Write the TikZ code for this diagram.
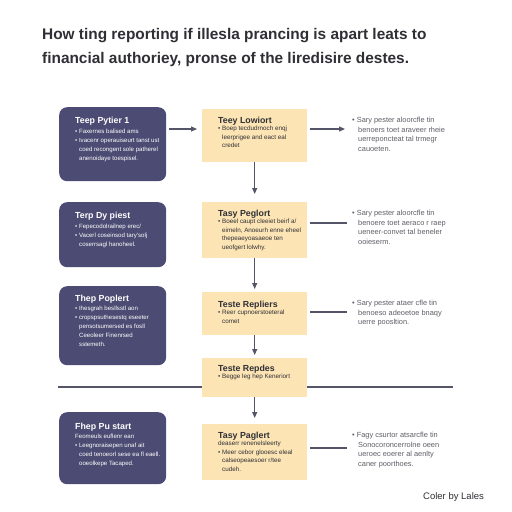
\documentclass[tikz,border=0pt]{standalone}
\usepackage{fontspec}
\setmainfont{Liberation Sans}
\usetikzlibrary{arrows.meta}
\definecolor{navy}{HTML}{4B4B73}
\definecolor{sand}{HTML}{FCE4B4}
\definecolor{ink}{HTML}{2F2F35}
\definecolor{linec}{HTML}{55556A}
\definecolor{graytxt}{HTML}{5E5E66}
\newcommand\bxfont{\fontsize{8.8}{11}\selectfont\bfseries}
\begin{document}
\begin{tikzpicture}[x=1pt,y=-1pt,
  darkbox/.style={fill=navy, rounded corners=8pt, inner sep=0pt, anchor=north west, minimum width=107pt},
  sandbox/.style={fill=sand, inner sep=0pt, anchor=north west, minimum width=105pt},
  ltext/.style={anchor=north west, inner sep=0pt, align=left, text=white, font=\fontsize{6.1}{9}\selectfont},
  ytext/.style={anchor=north west, inner sep=0pt, align=left, text=ink, font=\fontsize{6.3}{8.8}\selectfont},
  rtext/.style={anchor=north west, inner sep=0pt, align=left, text=graytxt, font=\fontsize{7.4}{9.6}\selectfont},
  conn/.style={draw=linec, line width=1.1pt},
  arr/.style={conn, -{Triangle[length=6pt,width=5pt]}}
]
\useasboundingbox (0,0) rectangle (512,512);
\fill[white] (0,0) rectangle (512,512);

% title
\node[anchor=west, inner sep=0pt, text=ink, align=left, font=\fontsize{15.4}{24}\selectfont\bfseries] (title) at (42,47.5)
  {How ting reporting if illesla prancing is apart leats to\\financial authoriey, pronse of the liredisire destes.};

% long horizontal line (behind box Y4)
\coordinate (hl) at (58,387);
\coordinate (hr) at (453,387);
\draw[conn] (hl) -- (hr);

% left dark boxes
\node[darkbox, minimum height=74pt] (L1) at (59,107) {};
\node[darkbox, minimum height=65pt] (L2) at (59,202) {};
\node[darkbox, minimum height=79pt] (L3) at (59,286) {};
\node[darkbox, minimum height=72pt] (L4) at (59,412) {};

\node[ltext] (L1t) at ([xshift=16pt,yshift=-10pt]L1.north west)
  {{\bxfont Teep Pytier 1}\\[1pt]
   • Faxernes balised ams\\
   • Ivacenr operauiseurt tanst ust\\
   \hspace*{4pt}coed recongent sole patherel\\
   \hspace*{4pt}anenoidaye toespisel.};
\node[ltext] (L2t) at ([xshift=16pt,yshift=-10pt]L2.north west)
  {{\bxfont Terp Dy piest}\\[1pt]
   • Fepecodolrailnep erec/\\
   • Vacerl coseinsod tary'solj\\
   \hspace*{4pt}coserrsagl hanoheel.};
\node[ltext] (L3t) at ([xshift=16pt,yshift=-9pt]L3.north west)
  {{\bxfont Thep Poplert}\\[0pt]
   • Ihesgrah besllsstl aon\\
   • cropspsuthesestq eseeter\\
   \hspace*{4pt}pensotsumersed es fosll\\
   \hspace*{4pt}Ceeoleer Finenrsed\\
   \hspace*{4pt}sstemeth.};
\node[ltext] (L4t) at ([xshift=16pt,yshift=-11pt]L4.north west)
  {{\bxfont Fhep Pu start}\\[0pt]
   \hspace*{0pt}Feomeuls euflenr ean\\
   • Leegnoraisepen unaf ait\\
   \hspace*{4pt}coed tenoeorl sese ea fl eaell.\\
   \hspace*{4pt}ooeolkepe Tacaped.};

% sand boxes
\node[sandbox, minimum height=53pt] (Y1) at (202,109) {};
\node[sandbox, minimum height=56pt] (Y2) at (202,202) {};
\node[sandbox, minimum height=43pt] (Y3) at (202,292) {};
\node[sandbox, minimum height=39pt] (Y4) at (202,358) {};
\node[sandbox, minimum height=56pt] (Y5) at (202,424) {};

\node[ytext] (Y1t) at ([xshift=16pt,yshift=-8pt]Y1.north west)
  {{\bxfont Teey Lowiort}\\[-2pt]
   • Boep tecdudrnoch enqj\\
   \hspace*{4pt}leerprigee and eact eal\\
   \hspace*{4pt}credet};
\node[ytext] (Y2t) at ([xshift=16pt,yshift=-8pt]Y2.north west)
  {{\bxfont Tasy Peglort}\\[-2pt]
   • Boeel caupt cleeiet beirf a/\\
   \hspace*{4pt}eimeln, Anoeurh enne eheel\\
   \hspace*{4pt}thepeaeyoasaeoe ten\\
   \hspace*{4pt}ueofgert lolwhy.};
\node[ytext] (Y3t) at ([xshift=16pt,yshift=-9pt]Y3.north west)
  {{\bxfont Teste Repliers}\\[-2pt]
   • Reer cupnoerstoeteral\\
   \hspace*{4pt}comet};
\node[ytext] (Y4t) at ([xshift=16pt,yshift=-7pt]Y4.north west)
  {{\bxfont Teste Repdes}\\[-2pt]
   • Begge leg hep Keneriort};
\node[ytext] (Y5t) at ([xshift=16pt,yshift=-8pt]Y5.north west)
  {{\bxfont Tasy Paglert}\\[-2pt]
   \hspace*{0pt}deaserr renenelsleerty\\
   • Meer cebor glooesc eleal\\
   \hspace*{4pt}calseopeaesoer r/tee\\
   \hspace*{4pt}cudeh.};

% right texts
\node[rtext] (R1) at (352,117)
  {• Sary pester aloorcfle tin\\
   \hspace*{6pt}benoers toet araveer rheie\\
   \hspace*{6pt}uerreponcteat tal trmegr\\
   \hspace*{6pt}cauoeten.};
\node[rtext] (R2) at (352,210)
  {• Sary pester aloorcfle tin\\
   \hspace*{6pt}benoere toet aeraco r raep\\
   \hspace*{6pt}ueneer-convet tal beneler\\
   \hspace*{6pt}ooieserm.};
\node[rtext] (R3) at (352,300)
  {• Sary pester ataer cfle tin\\
   \hspace*{6pt}benoeso adeoetoe bnaqy\\
   \hspace*{6pt}uerre poosltion.};
\node[rtext] (R4) at (352,432)
  {• Fagy csurtor atsarcfle tin\\
   \hspace*{6pt}Sonocoroncerrolne oeen\\
   \hspace*{6pt}ueroec eoerer al aenlty\\
   \hspace*{6pt}caner poorthoes.};

% footer
\node[anchor=west, inner sep=0pt, text=ink, font=\fontsize{9.5}{11}\selectfont] (foot) at (423,497) {Coler by Lales};

% connectors
\draw[arr, shorten <=3pt, shorten >=5pt] (L1.east |- 0,129) -- (Y1.west |- 0,129);
\draw[arr, shorten <=3pt, shorten >=7pt] (Y1.east |- 0,129) -- (R1.west |- 0,129);
\draw[arr, shorten >=8pt] (Y1.south) -- (Y2.north);
\draw[conn, shorten <=3pt, shorten >=5pt] (Y2.east |- 0,223) -- (R2.west |- 0,223);
\draw[arr, shorten >=3pt] (Y2.south) -- (Y3.north);
\draw[conn, shorten <=3pt, shorten >=5pt] (Y3.east |- 0,312) -- (R3.west |- 0,312);
\draw[arr, shorten >=3pt] (Y3.south) -- (Y4.north);
\draw[arr, shorten >=6pt] (Y4.south) -- (Y5.north);
\draw[conn, shorten <=3pt, shorten >=5pt] (Y5.east |- 0,448) -- (R4.west |- 0,448);
\end{tikzpicture}
\end{document}
